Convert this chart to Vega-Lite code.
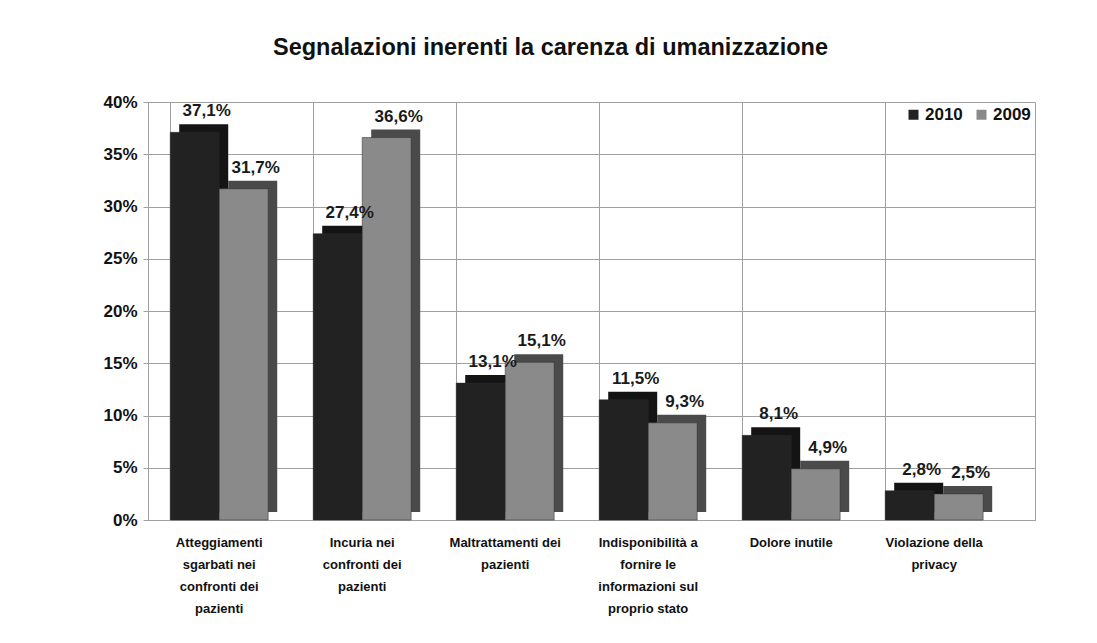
{
  "$schema": "https://vega.github.io/schema/vega-lite/v6.json",
  "autosize": "none",
  "width": 887,
  "height": 418,
  "padding": {"left": 148, "top": 102, "right": 62, "bottom": 123},
  "background": "white",
  "config": {
    "locale": {"number": {"decimal": ",", "thousands": ".", "grouping": [3], "currency": ["", " €"]}},
    "font": "Liberation Sans",
    "view": {"stroke": "#a0a0a0", "strokeWidth": 1}
  },
  "title": {
    "text": "Segnalazioni inerenti la carenza di umanizzazione",
    "font": "Liberation Sans",
    "fontSize": 23.5,
    "fontWeight": "bold",
    "color": "#111111",
    "anchor": "middle",
    "dx": -41,
    "offset": 34
  },
  "data": {
    "values": [
      {"categoria": "Atteggiamenti|sgarbati nei|confronti dei|pazienti", "anno": "2010", "valore": 0.371},
      {"categoria": "Atteggiamenti|sgarbati nei|confronti dei|pazienti", "anno": "2009", "valore": 0.317},
      {"categoria": "Incuria nei|confronti dei|pazienti", "anno": "2010", "valore": 0.274},
      {"categoria": "Incuria nei|confronti dei|pazienti", "anno": "2009", "valore": 0.366},
      {"categoria": "Maltrattamenti dei|pazienti", "anno": "2010", "valore": 0.131},
      {"categoria": "Maltrattamenti dei|pazienti", "anno": "2009", "valore": 0.151},
      {"categoria": "Indisponibilità a|fornire le|informazioni sul|proprio stato", "anno": "2010", "valore": 0.115},
      {"categoria": "Indisponibilità a|fornire le|informazioni sul|proprio stato", "anno": "2009", "valore": 0.093},
      {"categoria": "Dolore inutile", "anno": "2010", "valore": 0.081},
      {"categoria": "Dolore inutile", "anno": "2009", "valore": 0.049},
      {"categoria": "Violazione della|privacy", "anno": "2010", "valore": 0.028},
      {"categoria": "Violazione della|privacy", "anno": "2009", "valore": 0.025}
    ]
  },
  "encoding": {
    "x": {
      "field": "categoria",
      "type": "nominal",
      "sort": null,
      "scale": {"paddingInner": 0.315, "paddingOuter": 0.259, "align": 0.3},
      "axis": {
        "title": null,
        "labelAngle": 0,
        "labelExpr": "split(datum.label, '|')",
        "labelFont": "Liberation Sans",
        "labelFontSize": 13,
        "labelFontWeight": "bold",
        "labelColor": "#111111",
        "labelLineHeight": 22,
        "labelPadding": 16,
        "labelLimit": 200,
        "grid": true,
        "gridColor": "#a0a0a0",
        "bandPosition": 0,
        "ticks": false,
        "domainColor": "#a0a0a0"
      }
    },
    "y": {
      "field": "valore",
      "type": "quantitative",
      "scale": {"domain": [0, 0.4]},
      "axis": {
        "title": null,
        "format": ".0%",
        "values": [0, 0.05, 0.1, 0.15, 0.2, 0.25, 0.3, 0.35, 0.4],
        "labelFontSize": 17,
        "labelFontWeight": "bold",
        "labelColor": "#111111",
        "labelPadding": 6,
        "gridColor": "#a0a0a0",
        "tickColor": "#a0a0a0",
        "domainColor": "#a0a0a0"
      }
    }
  },
  "layer": [
    {
      "mark": {"type": "bar", "yOffset": -8},
      "encoding": {
        "xOffset": {"field": "anno", "type": "nominal", "sort": ["2010", "2009"], "scale": {"range": [9, 107]}},
        "fill": {
          "condition": {"test": "datum.anno === '2010'", "value": "#141414"},
          "value": "#4a4a4a"
        }
      }
    },
    {
      "mark": {"type": "bar", "stroke": "#2a2a2a", "strokeWidth": 0.5},
      "encoding": {
        "xOffset": {"field": "anno", "type": "nominal", "sort": ["2010", "2009"]},
        "color": {
          "field": "anno",
          "type": "nominal",
          "sort": ["2010", "2009"],
          "scale": {"domain": ["2010", "2009"], "range": ["#222222", "#8a8a8a"]},
          "legend": {
            "title": null,
            "orient": "top-right",
            "direction": "horizontal",
            "symbolType": "square",
            "symbolSize": 100,
            "symbolStrokeWidth": 0,
            "labelFontSize": 17,
            "labelFontWeight": "bold",
            "labelColor": "#111111",
            "labelOffset": 3,
            "columnPadding": 10,
            "offset": 4
          }
        }
      }
    },
    {
      "mark": {"type": "text", "baseline": "bottom", "dy": -12, "dx": 12, "fontSize": 17, "fontWeight": "bold", "color": "#1a1a1a"},
      "encoding": {
        "xOffset": {"field": "anno", "type": "nominal", "sort": ["2010", "2009"]},
        "text": {"field": "valore", "type": "quantitative", "format": ".1%"}
      }
    }
  ],
  "resolve": {"scale": {"xOffset": "independent"}}
}
